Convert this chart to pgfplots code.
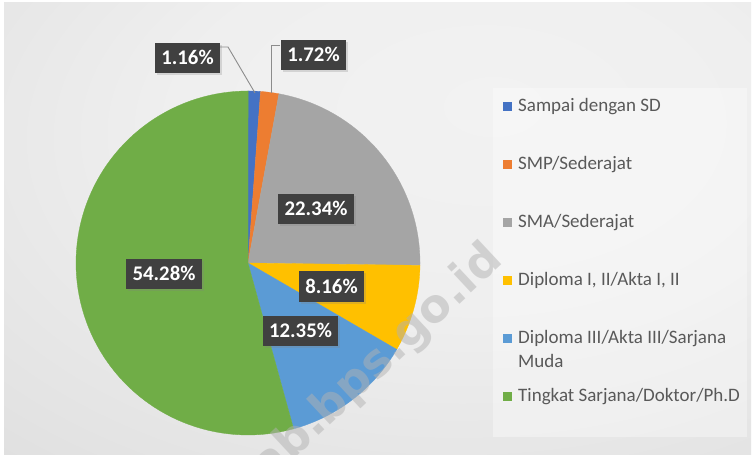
\documentclass[border=0pt]{standalone}
\usepackage{pgfplots}
\pgfplotsset{compat=1.18}
\usepackage{fontspec}
\setmainfont{Carlito}
\newfontfamily\wmfont{DejaVu Sans}
\usetikzlibrary{shadows}
\definecolor{cSD}{HTML}{4472C4}
\definecolor{cSMP}{HTML}{ED7D31}
\definecolor{cSMA}{HTML}{A5A5A5}
\definecolor{cDI}{HTML}{FFC000}
\definecolor{cDIII}{HTML}{5B9BD5}
\definecolor{cS}{HTML}{70AD47}
\definecolor{legtext}{HTML}{595959}
\definecolor{lblbg}{HTML}{404040}
\definecolor{leader}{HTML}{8C8C8C}
\definecolor{bgA}{HTML}{F2F2F2}
\definecolor{bgB}{HTML}{EFEFEF}
\definecolor{bgC}{HTML}{E3E3E3}
\definecolor{bgD}{HTML}{D5D5D5}
\definecolor{bgE}{HTML}{CECECE}
\pgfdeclareradialshading{bgshade}{\pgfpoint{8bp}{14bp}}{color(0bp)=(bgA); color(20bp)=(bgB); color(40bp)=(bgC); color(60bp)=(bgD); color(100bp)=(bgE)}
\tikzset{lbl/.style={fill=lblbg, text=white, font=\bfseries\fontsize{20.8bp}{24bp}\selectfont,
    inner xsep=6.3bp, inner ysep=8.6bp, text height=13.2bp, text depth=0bp,
    drop shadow={shadow xshift=2bp, shadow yshift=-2bp, opacity=0.25}}}
% slice: cumulative start (%), value (%), colour, legend text
\newcommand\slice[4]{%
  \pgfmathsetmacro\aS{90-3.6*(#1+#2)}%
  \pgfmathsetmacro\aE{90-3.6*(#1)}%
  \edef\temp{\noexpand\addplot[fill=#3, draw=#3, line width=0.3bp, domain=\aS:\aE, samples=90, variable=\noexpand\t] ({248+172*cos(\noexpand\t)},{192+172*sin(\noexpand\t)}) -- (248,192) -- cycle;}%
  \temp
  \addlegendentry{#4}}
\begin{document}
\begin{tikzpicture}[x=1bp,y=1bp]
\fill[white] (0,0) rectangle (753,455);
\shade[shading=bgshade] (4,0) rectangle (751,452);
\fill[white, opacity=0.35] (493,18) rectangle (747,367);
\begin{axis}[
  at={(0,0)}, anchor=south west,
  width=753bp, height=455bp, scale only axis,
  xmin=0, xmax=753, ymin=0, ymax=455,
  hide axis, clip=false,
  legend cell align=left,
  legend image code/.code={\fill[#1, draw=none] (0bp,-4.5bp) rectangle (9bp,4.5bp);},
  legend style={at={(0.668,0.7846)}, anchor=north west, draw=none, fill=none,
    inner sep=0pt, row sep=41bp, column sep=6bp,
    nodes={inner sep=0pt, text height=13bp, text depth=4bp, text=legtext,
      font=\fontsize{19bp}{24bp}\selectfont}},
]
\slice{0}{1.16}{cSD}{Sampai dengan SD}
\slice{1.16}{1.72}{cSMP}{SMP/Sederajat}
\slice{2.88}{22.34}{cSMA}{SMA/Sederajat}
\slice{25.22}{8.16}{cDI}{Diploma I, II/Akta I, II}
\slice{33.38}{12.35}{cDIII}{\parbox[t]{220bp}{Diploma III/Akta III/Sarjana\\Muda}}
\slice{45.73}{54.28}{cS}{Tingkat Sarjana/Doktor/Ph.D}
% watermark
\node[overlay, rotate=43, anchor=base east, text=gray!60, opacity=0.5,
  font=\wmfont\bfseries\fontsize{46bp}{50bp}\selectfont] at (507,195) {kab.bps.go.id};
% leader lines
\draw[leader, line width=0.9bp] (220,408) -- (228,408) -- (255,362);
\draw[leader, line width=0.9bp] (280,410) -- (271,410) -- (271,362);
% data labels
\node[lbl] at (187.5,397) {1.16\%};
\node[lbl] at (313.5,400) {1.72\%};
\node[lbl] at (316,246) {22.34\%};
\node[lbl] at (331.5,168.5) {8.16\%};
\node[lbl] at (300.5,124) {12.35\%};
\node[lbl] at (164,181) {54.28\%};
\end{axis}
\end{tikzpicture}
\end{document}
